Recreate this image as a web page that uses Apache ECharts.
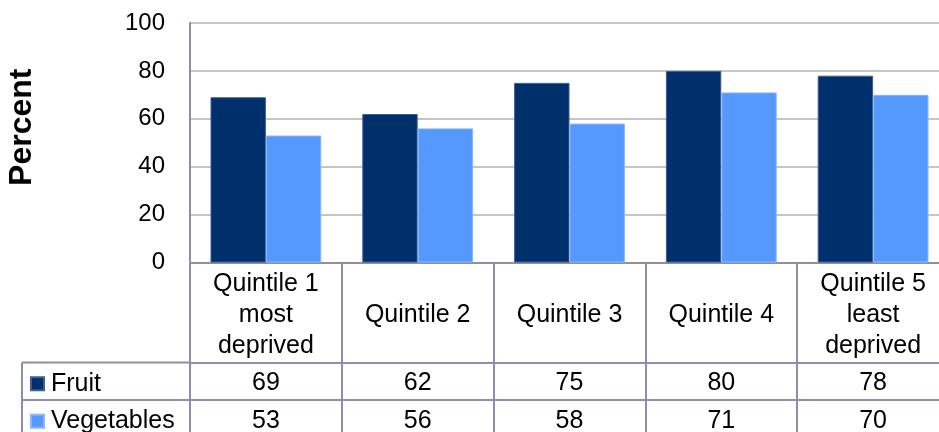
<!DOCTYPE html>
<html>
<head>
<meta charset="utf-8">
<script src="https://cdn.jsdelivr.net/npm/echarts@6/dist/echarts.min.js"></script>
<style>
html,body{margin:0;padding:0;background:#fff;}
#chart{width:939px;height:432px;}
</style>
</head>
<body>
<div id="chart"></div>
<script>
// ---- data ----
const categories = ['Quintile 1\nmost\ndeprived', 'Quintile 2', 'Quintile 3', 'Quintile 4', 'Quintile 5\nleast\ndeprived'];
const seriesNames = ['Fruit', 'Vegetables'];
const fruit = [69, 62, 75, 80, 78];
const vegetables = [53, 56, 58, 71, 70];
const yTickMin = 0, yTickMax = 100, yTickStep = 20;
const yAxisTitle = 'Percent';

// ---- layout / style ----
const FONT = '"Liberation Sans", Arial, sans-serif';
const LINE = '#8E8EA8';
const GRID = { left: 190, top: 23, width: 759, height: 239.5, outerBoundsMode: 'none', containLabel: false };
const plotBottom = GRID.top + GRID.height;
const headerH = 100, rowH = 37.5;
const TFS = 25;
const colors = ['#00306C', '#5599FF'];

const chart = echarts.init(document.getElementById('chart'), null, { renderer: 'canvas' });

function rowAxis(values, offset, margin) {
  return {
    type: 'category', data: categories, position: 'bottom', offset: offset,
    axisLine: { show: true, lineStyle: { color: LINE, width: 2 } },
    axisTick: { show: false },
    axisLabel: {
      interval: 0, margin: margin, verticalAlign: 'middle',
      fontFamily: FONT, fontSize: TFS, color: '#000',
      formatter: (v, i) => String(values[i])
    },
    splitLine: { show: false }
  };
}

function legendRow(name, rowIndex) {
  return {
    data: [name], orient: 'vertical', left: 30,
    top: plotBottom + headerH + rowH * rowIndex + rowH / 2 - 12 + 2,
    padding: 0, itemWidth: 13, itemHeight: 13, icon: 'rect',
    textStyle: { fontFamily: FONT, fontSize: TFS, color: '#000', lineHeight: 24, padding: [0, 0, 0, 2] }
  };
}

const option = {
  animation: false,
  backgroundColor: '#fff',
  grid: GRID,
  legend: seriesNames.map((n, i) => legendRow(n, i)),
  xAxis: [
    {
      type: 'category', data: categories, position: 'bottom',
      axisLine: { show: true, lineStyle: { color: LINE, width: 2 } },
      axisTick: { show: true, length: 432 - plotBottom, lineStyle: { color: LINE, width: 2 } },
      axisLabel: {
        interval: 0, margin: headerH / 2 + 3, verticalAlign: 'middle',
        fontFamily: FONT, fontSize: TFS, lineHeight: 31, color: '#000', align: 'center'
      },
      splitLine: { show: false }
    },
    rowAxis(fruit, headerH, 21),
    rowAxis(vegetables, headerH + rowH, 21)
  ],
  yAxis: {
    type: 'value', min: yTickMin, max: yTickMax, interval: yTickStep,
    name: yAxisTitle, nameLocation: 'middle', nameRotate: 90, nameGap: 152,
    nameTextStyle: { fontFamily: FONT, fontSize: 32, fontWeight: 'bold', color: '#000', padding: [0, 0, 0, 31] },
    axisLine: { show: true, lineStyle: { color: LINE, width: 2 } },
    axisTick: { show: false },
    axisLabel: { fontFamily: FONT, fontSize: 24, color: '#000', margin: 25 },
    splitLine: { show: true, lineStyle: { color: '#C6C6C6', width: 2 } }
  },
  series: [
    {
      name: seriesNames[0], type: 'bar', data: fruit, xAxisIndex: 0,
      barGap: '0%', barCategoryGap: '27%',
      itemStyle: { color: colors[0], borderColor: '#3D5F94', borderWidth: 1 }
    },
    {
      name: seriesNames[1], type: 'bar', data: vegetables, xAxisIndex: 0,
      barGap: '0%', barCategoryGap: '27%',
      itemStyle: { color: colors[1], borderColor: '#86B8FF', borderWidth: 1 }
    }
  ],
  graphic: [
    { type: 'line', shape: { x1: 22, y1: plotBottom + headerH, x2: GRID.left, y2: plotBottom + headerH }, style: { stroke: LINE, lineWidth: 2 } },
    { type: 'line', shape: { x1: 22, y1: plotBottom + headerH + rowH, x2: GRID.left, y2: plotBottom + headerH + rowH }, style: { stroke: LINE, lineWidth: 2 } },
    { type: 'line', shape: { x1: 22, y1: plotBottom + headerH, x2: 22, y2: 432 }, style: { stroke: LINE, lineWidth: 2 } }
  ]
};
chart.setOption(option);
</script>
</body>
</html>
